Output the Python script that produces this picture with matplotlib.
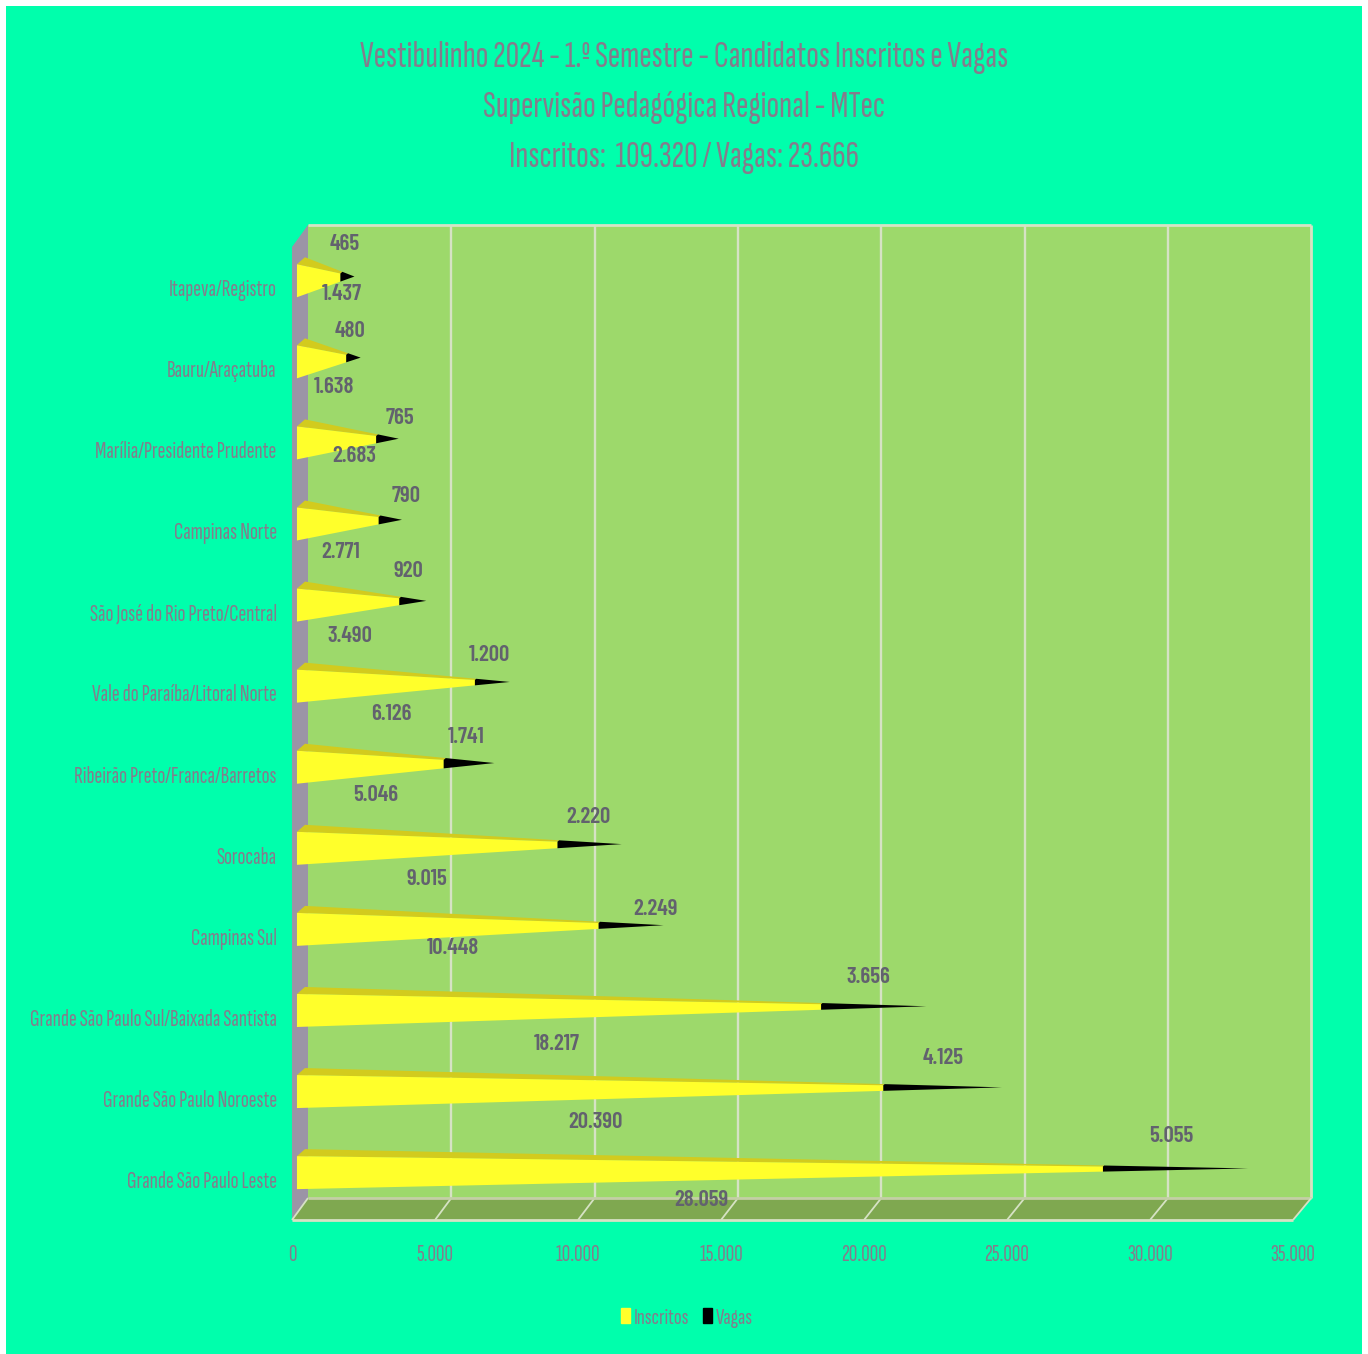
from matplotlib import pyplot as plt
from matplotlib.patches import Patch, Rectangle

plt.rcParams['font.family'] = ['Sofia Sans Extra Condensed', 'Barlow Condensed', 'Liberation Sans', 'DejaVu Sans']

# Data, bottom category first
regions = ['Grande São Paulo Leste', 'Grande São Paulo Noroeste', 'Grande São Paulo Sul/Baixada Santista',
           'Campinas Sul', 'Sorocaba', 'Ribeirão Preto/Franca/Barretos', 'Vale do Paraíba/Litoral Norte',
           'São José do Rio Preto/Central', 'Campinas Norte', 'Marília/Presidente Prudente',
           'Bauru/Araçatuba', 'Itapeva/Registro']
inscritos = [28059, 20390, 18217, 10448, 9015, 5046, 6126, 3490, 2771, 2683, 1638, 1437]
vagas = [5055, 4125, 3656, 2249, 2220, 1741, 1200, 920, 790, 765, 480, 465]
x_ticks = [0, 5000, 10000, 15000, 20000, 25000, 30000, 35000]
titles = ['Vestibulinho 2024 - 1.º Semestre - Candidatos Inscritos e Vagas',
          'Supervisão Pedagógica Regional - MTec',
          'Inscritos:  109.320 / Vagas: 23.666']

# Where the data labels sit in the picture (pixels)
inscritos_label_px = [(701, 1199), (595, 1121), (557, 1043), (453, 947), (427, 878), (376, 794),
                      (391, 713), (350, 635), (341, 551), (354, 455), (334, 386), (342, 293)]
vagas_label_px = [(1171, 1135), (943, 1057), (868, 976), (656, 908), (588, 816), (466, 736),
                  (489, 654), (408, 570), (406, 495), (400, 417), (350, 330), (345, 243)]

W, H = 1368, 1354
BG = '#00FFAC'
WALL = '#9DD96B'
FLOOR = '#7FA850'
SIDE = '#9B94A6'
EDGE = '#D6E2C4'
TEXT = '#857C8C'
LABEL = '#62626E'
YELLOW = '#FFFF2B'
YELLOW_TOP = '#D2CB1E'

fig = plt.figure(figsize=(W / 100, H / 100), dpi=100, facecolor='white')
fig.patches.append(Rectangle((6 / W, 0), (W - 12) / W, 1 - 6 / H, transform=fig.transFigure,
	facecolor=BG, edgecolor='none', zorder=-5))

ax = fig.add_axes([292 / W, 1 - 1220 / H, 1001 / W, 973 / H])
ax.set_xlim(0, 35000)
ax.set_ylim(0, 12)
ax.patch.set_alpha(0)
for side in ax.spines.values():
	side.set_visible(False)

# Depth of the fake 3D box in data units
DX = 16 / 1001 * 35000
DY = 22 / 973 * 12


def at(x, y, d=0.0):
	return x * (1 + 0.0023 * d) + d * DX, y + d * DY


def poly(points, **kw):
	xs = [p[0] for p in points]
	ys = [p[1] for p in points]
	ax.fill(xs, ys, clip_on=False, linewidth=0, **kw)


def seg(a, b, lw=1.7, color=EDGE, z=2):
	ax.plot([a[0], b[0]], [a[1], b[1]], color=color, lw=lw, clip_on=False, zorder=z, solid_capstyle='butt')


# Walls and floor
poly([at(0, 0, 1), at(35000, 0, 1), at(35000, 12, 1), at(0, 12, 1)], color=WALL, zorder=1)
poly([at(0, 0, 0), at(35000, 0, 0), at(35000, 0, 1), at(0, 0, 1)], color=FLOOR, zorder=1)
poly([at(0, 0, 0), at(0, 12, 0), at(0, 12, 1), at(0, 0, 1)], color=SIDE, zorder=1)

for t in x_ticks:
	if 0 < t < 35000:
		seg(at(t, 0, 1), at(t, 12, 1))
		seg(at(t, 0, 0), at(t, 0, 1), lw=1.3)
seg(at(0, 12, 1), at(35000, 12, 1), lw=2)
seg(at(35000, 0, 1), at(35000, 12, 1), lw=2)
seg(at(0, 0, 1), at(35000, 0, 1), lw=2, color='#C4CFA6')
seg(at(35000, 0, 0), at(35000, 0, 1), lw=1.3)
seg(at(0, 0, 0), at(35000, 0, 0), lw=2)
seg(at(0, 0, 0), at(0, 0, 1), lw=1.3)

# Stacked pyramids, drawn from the back to the front
HALF = 16.5 / 973 * 12
TOP_DX = 8 / 1001 * 35000
TOP_DY = 7 / 973 * 12
BASE_D = 0.31
TIP_D = 0.5

for i in reversed(range(len(regions))):
	total = inscritos[i] + vagas[i]
	c = i + 0.5
	base = at(0, c, BASE_D)
	tip = at(total, c, TIP_D)
	low = (base[0], base[1] - HALF)
	high = (base[0], base[1] + HALF)
	back = (high[0] + TOP_DX, high[1] + TOP_DY)
	f = inscritos[i] / total

	def along(p):
		return p[0] + (tip[0] - p[0]) * f, p[1] + (tip[1] - p[1]) * f

	z = 3 + (len(regions) - i) * 0.01
	poly([high, back, along(back), along(high)], color=YELLOW_TOP, zorder=z)
	poly([low, high, along(high), along(low)], color=YELLOW, zorder=z)
	poly([along(low), along(high), along(back), tip], color='black', zorder=z)

ax.set_xticks(x_ticks)
ax.set_xticklabels([f'{t:,}'.replace(',', '.') for t in x_ticks], color=TEXT, fontsize=17)
ax.set_yticks([i + 0.5 for i in range(len(regions))])
ax.set_yticklabels(regions, color=TEXT, fontsize=17)
ax.tick_params(axis='both', length=0)
ax.tick_params(axis='x', pad=17)
ax.tick_params(axis='y', pad=11)

# Data labels
for i in range(len(regions)):
	for val, pos in ((inscritos[i], inscritos_label_px[i]), (vagas[i], vagas_label_px[i])):
		fig.text(pos[0] / W, 1 - (pos[1] + 1) / H, f'{val:,}'.replace(',', '.'), color=LABEL, fontsize=16.5,
			family=['Barlow Condensed', 'Liberation Sans', 'DejaVu Sans'], fontweight='semibold',
			ha='center', va='center', zorder=10)

# Title
for line, y in zip(titles, (57, 107, 158)):
	fig.text(684 / W, 1 - y / H, line, color=TEXT, fontsize=27, ha='center', va='center')

fig.legend(handles=[Patch(color=YELLOW, label='Inscritos'), Patch(color='black', label='Vagas')],
	loc='center', bbox_to_anchor=(687 / W, 1 - 1318 / H), ncol=2, frameon=False, fontsize=16.5,
	labelcolor=TEXT, handlelength=0.39, handleheight=0.65, handletextpad=0.17, columnspacing=0.6)

plt.savefig('out.png', dpi=100, facecolor=fig.get_facecolor())
